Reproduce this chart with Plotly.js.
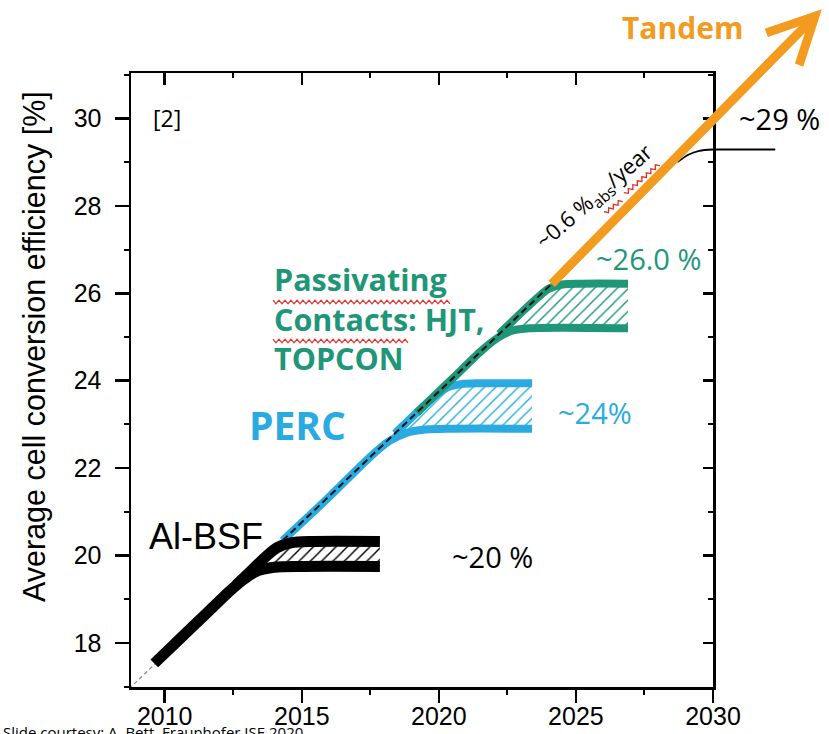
<!DOCTYPE html>
<html><head><meta charset="utf-8">
<script src="https://cdn.plot.ly/plotly-3.0.1.min.js"></script>
<style>html,body{margin:0;padding:0;background:#fff;} #chart{width:829px;height:734px;}</style>
</head><body><div id="chart"></div>
<script>
// ---- axes ----
const xRange = [2008.77, 2030];
const yRange = [16.99, 31.04];
const xTicks = [2010, 2015, 2020, 2025, 2030];
const xMinor = [2012.5, 2017.5, 2022.5, 2027.5];
const yTicks = [18, 20, 22, 24, 26, 28, 30];
const yMinor = [17, 19, 21, 23, 25, 27, 29, 31];

// ---- Al-BSF (black) ----
const albsfLowerX = [2009.62, 2010.5, 2011.5, 2012.4, 2012.9, 2013.4, 2014.0, 2015.0, 2017.85];
const albsfLowerY = [17.53, 18.06, 18.66, 19.2, 19.46, 19.65, 19.73, 19.75, 19.75];
const albsfUpperX = [2012.6, 2013.2, 2013.7, 2014.1, 2014.6, 2015.4, 2017.85];
const albsfUpperY = [19.32, 19.68, 19.98, 20.18, 20.29, 20.32, 20.32];
const albsfHatchX = [2013.9, 2014.1, 2014.6, 2015.4, 2017.85];
const albsfHatchUp = [20.08, 20.18, 20.29, 20.32, 20.32];
const albsfHatchLo = [19.73, 19.74, 19.75, 19.75, 19.75];

// ---- PERC (blue) ----
const percLowerX = [2014.3, 2016.0, 2017.5, 2018.2, 2018.8, 2019.5, 2020.5, 2023.4];
const percLowerY = [20.34, 21.34, 22.26, 22.62, 22.8, 22.88, 22.9, 22.9];
const percUpperX = [2018.4, 2019.4, 2019.9, 2020.3, 2020.8, 2021.5, 2023.4];
const percUpperY = [22.79, 23.39, 23.67, 23.84, 23.92, 23.94, 23.94];
const percHatchX = [2018.6, 2019.4, 2019.9, 2020.3, 2020.8, 2021.5, 2023.4];
const percHatchUp = [22.91, 23.39, 23.67, 23.84, 23.92, 23.94, 23.94];
const percHatchLo = [22.9, 22.9, 22.9, 22.9, 22.9, 22.9, 22.9];

// ---- Passivating contacts (green) ----
const pcLowerX = [2019.2, 2020.5, 2021.6, 2022.2, 2022.7, 2023.3, 2026.9];
const pcLowerY = [23.27, 24.05, 24.71, 25.0, 25.15, 25.2, 25.2];
const pcUpperX = [2022.2, 2023.0, 2023.6, 2024.0, 2024.5, 2025.2, 2026.9];
const pcUpperY = [25.07, 25.55, 25.9, 26.1, 26.2, 26.22, 26.22];
const pcHatchX = [2022.45, 2023.0, 2023.6, 2024.0, 2024.5, 2025.2, 2026.9];
const pcHatchUp = [25.2, 25.55, 25.9, 26.1, 26.2, 26.22, 26.22];
const pcHatchLo = [25.2, 25.2, 25.2, 25.2, 25.2, 25.2, 25.2];

// ---- trend (~0.6 %abs/year) ----
const trendX = [2014.3, 2024.06];
const trendY = [20.34, 26.18];
const stubX = [2008.7, 2009.65];
const stubY = [16.95, 17.52];

// ---- Tandem ----
const tandemX = [2024.06, 2033.97];
const tandemY = [26.18, 32.5];
const limitCurveX = [2028.7, 2029.1, 2029.5, 2030.0];
const limitCurveY = [29.0, 29.17, 29.26, 29.29];
const limitFlatX = [2029.95, 2032.27];
const limitFlatY = [29.29, 29.29];

const cBlue = '#29abe2', cGreen = '#1e9677', cOrange = '#f39b1f', cBlack = '#000';

function poly(xs, up, lo) {
  return { x: xs.concat(xs.slice().reverse()), y: up.concat(lo.slice().reverse()) };
}
function hatch(xs, up, lo, col) {
  const p = poly(xs, up, lo);
  return { x: p.x, y: p.y, mode: 'lines', fill: 'toself', line: { width: 0, color: 'rgba(0,0,0,0)' },
    fillcolor: 'rgba(0,0,0,0)',
    fillpattern: { shape: '/', fgcolor: col, bgcolor: 'rgba(255,255,255,0)', size: 8, solidity: 0.18 },
    hoverinfo: 'skip' };
}
function curve(xs, ys, col, w) {
  return { x: xs, y: ys, mode: 'lines', line: { color: col, width: w, shape: 'spline', smoothing: 0.8 }, hoverinfo: 'skip' };
}

const traces = [
  hatch(albsfHatchX, albsfHatchUp, albsfHatchLo, cBlack),
  hatch(percHatchX, percHatchUp, percHatchLo, cBlue),
  hatch(pcHatchX, pcHatchUp, pcHatchLo, cGreen),
  { x: stubX, y: stubY, mode: 'lines', line: { color: '#888', width: 1.2, dash: '4px,3px' } },
  curve(percLowerX, percLowerY, cBlue, 8),
  curve(percUpperX, percUpperY, cBlue, 8),
  curve(pcLowerX, pcLowerY, cGreen, 8),
  curve(pcUpperX, pcUpperY, cGreen, 8),
  curve(albsfLowerX, albsfLowerY, cBlack, 11),
  curve(albsfUpperX, albsfUpperY, cBlack, 11),
  { x: trendX, y: trendY, mode: 'lines', line: { color: '#111', width: 2, dash: '7px,4px' } },
  curve(limitCurveX, limitCurveY, cBlack, 1.8),
  { x: [], y: [], xaxis: 'x2', yaxis: 'y2', mode: 'lines' }
];

// ---- decorative red spell-check squiggles under some labels (page pixels) ----
const plotL = 131, plotR = 829 - 116, plotT = 73, plotB = 734 - 47;
function squiggle(x0, y0, x1, y1) {
  const dx = x1 - x0, dy = y1 - y0, len = Math.hypot(dx, dy);
  const ux = dx / len, uy = dy / len, nx = -uy, ny = ux;
  const step = 3, amp = 1.8;
  let d = '';
  for (let s = 0, k = 0; s <= len; s += step, k++) {
    const o = (k % 2 ? amp : -amp);
    const px = x0 + ux * s + nx * o, py = y0 + uy * s + ny * o;
    const xp = (px - plotL) / (plotR - plotL), yp = (plotB - py) / (plotB - plotT);
    d += (k ? ' L' : 'M') + xp.toFixed(5) + ',' + yp.toFixed(5);
  }
  return { type: 'path', xref: 'paper', yref: 'paper', path: d, line: { color: '#e0302a', width: 1.3 }, layer: 'above' };
}
const shapes = [
  squiggle(273, 302, 452, 302),
  squiggle(273, 341, 408, 341),
  squiggle(605, 213, 622, 200),
  squiggle(625, 194, 659, 164)
];

const axBase = { showgrid: false, zeroline: false, showline: true, linecolor: '#000', linewidth: 2.5,
  tickcolor: '#000', tickwidth: 2.5, autorange: false };

const sego = 'Open Sans, Noto Sans, sans-serif';
const arial = 'Liberation Sans, Arial, sans-serif';

const ann = [
  { xref: 'paper', yref: 'paper', x: -0.167, y: 0.555, xanchor: 'center', yanchor: 'middle',
    text: 'Average cell conversion efficiency [%]', textangle: -90,
    showarrow: false, font: { family: arial, size: 30.5, color: '#000' } },
  { x: 2010.1, y: 30.0, text: '[2]', showarrow: false, font: { family: sego, size: 23, color: '#000' } },
  { x: 2011.49, y: 20.43, text: 'Al-BSF', showarrow: false, font: { family: arial, size: 36, color: '#000' } },
  { x: 2014.85, y: 22.99, text: '<b>PERC</b>', showarrow: false, font: { family: sego, size: 39, color: cBlue } },
  { x: 2013.93, y: 25.43, xanchor: 'left', align: 'left', text: '<b>Passivating<br>Contacts: HJT,<br>TOPCON</b>',
    showarrow: false, font: { family: sego, size: 30.5, color: cGreen } },
  { x: 2027.64, y: 26.8, text: '~26.0 %', showarrow: false, font: { family: sego, size: 29, color: cGreen } },
  { x: 2025.7, y: 23.28, text: '~24%', showarrow: false, font: { family: sego, size: 29, color: cBlue } },
  { x: 2021.95, y: 19.97, text: '~20 %', showarrow: false, font: { family: sego, size: 29, color: '#000' } },
  { xref: 'paper', x: 1.115, y: 30.0, xanchor: 'center', yanchor: 'middle', text: '~29 %', showarrow: false,
    font: { family: sego, size: 29, color: '#000' } },
  { x: 2025.68, y: 28.2, text: '~0.6 %<sub>abs</sub>/year', textangle: -41, showarrow: false,
    font: { family: sego, size: 22, color: '#000' } },
  { xref: 'paper', yref: 'paper', x: 0.947, y: 1.074, xanchor: 'center', yanchor: 'middle', text: '<b>Tandem</b>',
    showarrow: false, font: { family: sego, size: 30, color: cOrange } },
  { xref: 'paper', yref: 'paper', x: -0.224, y: -0.054, xanchor: 'left', yanchor: 'top',
    text: 'Slide courtesy: A. Bett, Fraunhofer ISE 2020', showarrow: false, font: { family: sego, size: 15, color: '#000' } },
  { x: tandemX[1], y: tandemY[1], ax: tandemX[0], ay: tandemY[0], axref: 'x', ayref: 'y', text: '',
    showarrow: true, arrowhead: 5, arrowsize: 1, arrowwidth: 9, arrowcolor: cOrange, standoff: 0, startstandoff: 0 },
  { x: limitFlatX[1], y: limitFlatY[1], ax: limitFlatX[0], ay: limitFlatY[0], axref: 'x', ayref: 'y', text: '',
    showarrow: true, arrowhead: 0, arrowwidth: 1.8, arrowcolor: '#000', standoff: 0 }
];

const layout = {
  width: 829, height: 734,
  margin: { l: 131, r: 116, t: 73, b: 47 },
  paper_bgcolor: '#fff', plot_bgcolor: '#fff',
  showlegend: false,
  font: { family: arial, color: '#000' },
  xaxis: Object.assign({}, axBase, { range: xRange, tickvals: xTicks, ticks: 'outside', ticklen: 13,
    tickfont: { family: arial, size: 25, color: '#000' }, ticklabelstandoff: -8,
    minor: { tickvals: xMinor, ticks: 'outside', ticklen: 5, tickwidth: 2, tickcolor: '#000' } }),
  yaxis: Object.assign({}, axBase, { range: yRange, tickvals: yTicks, ticks: 'outside', ticklen: 14,
    tickfont: { family: arial, size: 25, color: '#000' }, ticklabelstandoff: 8,
    minor: { tickvals: yMinor, ticks: 'outside', ticklen: 5, tickwidth: 2, tickcolor: '#000' } }),
  xaxis2: Object.assign({}, axBase, { overlaying: 'x', side: 'top', anchor: 'y2', range: xRange, tickvals: xTicks,
    ticks: 'inside', ticklen: 12, showticklabels: false,
    minor: { tickvals: xMinor, ticks: 'inside', ticklen: 5, tickwidth: 2, tickcolor: '#000' } }),
  yaxis2: Object.assign({}, axBase, { overlaying: 'y', side: 'right', anchor: 'x2', range: yRange, tickvals: yTicks,
    ticks: 'inside', ticklen: 10, showticklabels: false,
    minor: { tickvals: yMinor, ticks: 'inside', ticklen: 5, tickwidth: 2, tickcolor: '#000' } }),
  shapes: shapes,
  annotations: ann
};

Plotly.newPlot('chart', traces, layout, { staticPlot: true, displayModeBar: false });
</script>
</body></html>
